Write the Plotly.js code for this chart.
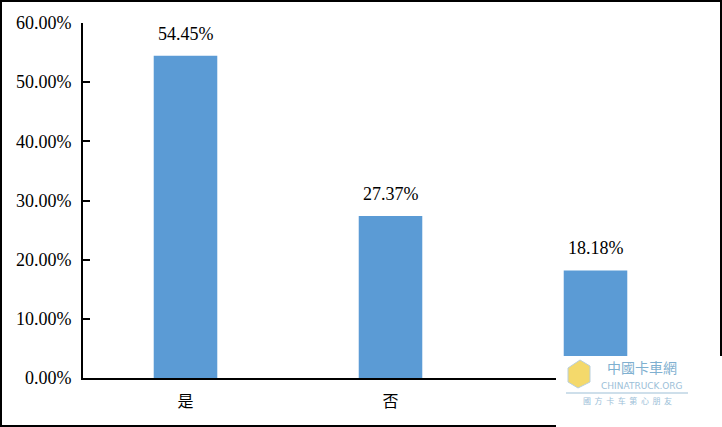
<!DOCTYPE html>
<html><head><meta charset="utf-8">
<script src="https://cdn.plot.ly/plotly-3.0.1.min.js"></script>
<style>html,body{margin:0;padding:0;background:#fff}#chart{width:722px;height:427px}</style>
</head><body><div id="chart"></div>
<script>
const categories = ["是", "否", "不清楚"];
const values = [0.5445, 0.2737, 0.1818];
const valueLabels = ["54.45%", "27.37%", "18.18%"];
// the third category's tick label is hidden under the watermark in the reference
const shownTicks = ["是", "否"];

const L = 83, R = 698, T = 23, B = 378;
const px = x => (x - L) / (R - L);
const py = y => (B - y) / (B - T);

const trace = {
  type: "bar", x: categories, y: values, width: 0.31,
  marker: {color: "#5B9BD5"},
  hoverinfo: "skip"
};

const labelAnnotations = categories.map((c, i) => ({
  x: c, y: values[i], xref: "x", yref: "y", text: valueLabels[i],
  showarrow: false, yanchor: "middle", yshift: 22,
  font: {family: "Liberation Serif", size: 18, color: "#000"}
}));

const layout = {
  width: 722, height: 427,
  margin: {l: L, r: 722 - R, t: T, b: 427 - B},
  paper_bgcolor: "#fff", plot_bgcolor: "#fff",
  showlegend: false,
  xaxis: {
    showline: true, linecolor: "#000", linewidth: 2, ticks: "",
    tickmode: "array", tickvals: shownTicks, ticktext: shownTicks,
    ticklabelstandoff: 8,
    tickfont: {family: "Noto Sans CJK SC", size: 16, color: "#000"},
    showgrid: false, zeroline: false, fixedrange: true
  },
  yaxis: {
    range: [0, 0.6], dtick: 0.1, tickformat: ".2%",
    showline: true, linecolor: "#000", linewidth: 2,
    ticks: "inside", ticklen: 7, tickwidth: 2, tickcolor: "#000",
    ticklabelstandoff: 6,
    tickfont: {family: "Liberation Serif", size: 18, color: "#000"},
    showgrid: false, zeroline: false, fixedrange: true
  },
  shapes: [
    {type: "rect", xref: "paper", yref: "paper", layer: "above",
     x0: px(1), x1: px(721), y0: py(426), y1: py(1),
     line: {color: "#000", width: 2}},
    {type: "rect", xref: "paper", yref: "paper", layer: "above",
     x0: px(556), x1: px(724), y0: py(429), y1: py(356),
     fillcolor: "#ffffff", opacity: 1, line: {width: 0}},
    {type: "line", xref: "paper", yref: "paper", layer: "above",
     x0: px(566), x1: px(688), y0: py(393), y1: py(393),
     line: {color: "#9dbfd6", width: 1}},
    {type: "path", xref: "paper", yref: "paper", layer: "above",
     path: `M ${px(568)} ${py(368)} L ${px(580)} ${py(360)} L ${px(590)} ${py(366)} L ${px(590)} ${py(382)} L ${px(578)} ${py(388)} L ${px(568)} ${py(382)} Z`,
     fillcolor: "#f4d96b", line: {color: "#b9cfdc", width: 1}}
  ],
  annotations: labelAnnotations.concat([
    {xref: "paper", yref: "paper", x: px(642), y: py(367), yanchor: "middle", xanchor: "center",
     text: "中國卡車網", showarrow: false,
     font: {family: "Noto Sans CJK TC", size: 14, color: "#7fb0d0"}},
    {xref: "paper", yref: "paper", x: px(642), y: py(386), yanchor: "middle", xanchor: "center",
     text: "CHINATRUCK.ORG", showarrow: false,
     font: {family: "DejaVu Sans", size: 9, color: "#9cc0d8"}},
    {xref: "paper", yref: "paper", x: px(627), y: py(401), yanchor: "middle", xanchor: "center",
     text: "國  方  卡  车  第  心  朋  友", showarrow: false,
     font: {family: "Noto Sans CJK SC", size: 8, color: "#9cc0d8"}}
  ])
};

Plotly.newPlot("chart", [trace], layout, {staticPlot: true, displayModeBar: false});
</script></body></html>
